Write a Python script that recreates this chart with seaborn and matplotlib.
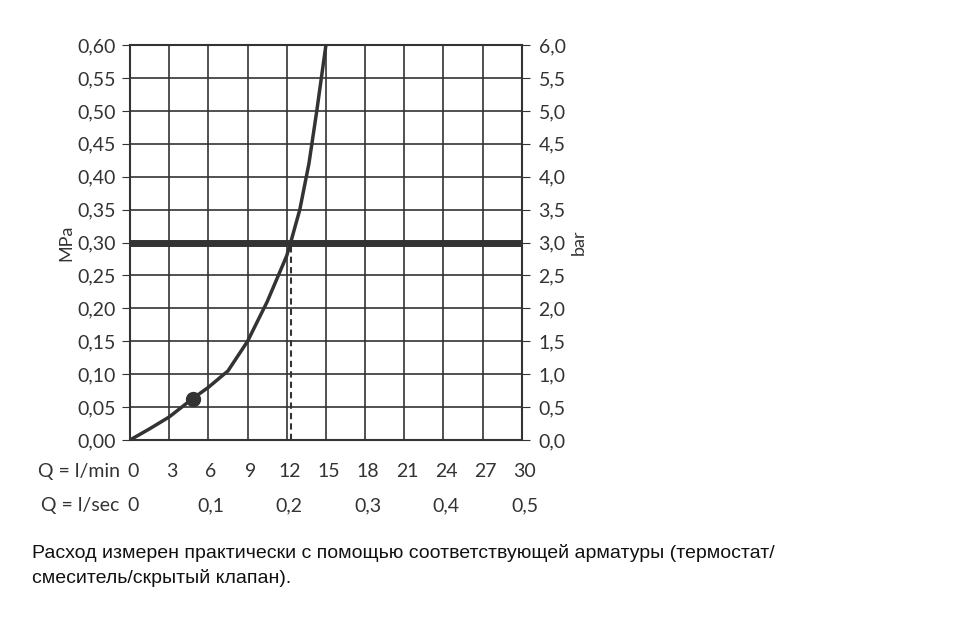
import numpy as np
import pandas as pd
import matplotlib
matplotlib.use("Agg")
import matplotlib.pyplot as plt
import seaborn as sns

# curve: flow (l/min) vs pressure (MPa)
flow = [0, 1.5, 3, 4.8, 6, 7.5, 9, 10.5, 12, 12.3, 13, 13.7, 14.3, 15]
pressure = [0, 0.017, 0.035, 0.063, 0.08, 0.105, 0.15, 0.21, 0.28, 0.30, 0.35, 0.42, 0.50, 0.60]
dot_flow, dot_pressure = 4.8, 0.063
ref_flow, ref_pressure = 12.3, 0.30

lmin_ticks = [0, 3, 6, 9, 12, 15, 18, 21, 24, 27, 30]
lsec_pos = [0, 6, 12, 18, 24, 30]
lsec_labels = ["0", "0,1", "0,2", "0,3", "0,4", "0,5"]
mpa_ticks = np.arange(0, 0.601, 0.05)

sns.set_style("white")
plt.rcParams['font.family'] = ['Lato', 'DejaVu Sans']
col = "#333333"

fig = plt.figure(figsize=(9.7, 6.18), dpi=100)
ax = fig.add_axes([0.134, 0.288, 0.404, 0.639])

ax.set_xlim(0, 30)
ax.set_ylim(0, 0.6)
ax.set_xticks(lmin_ticks)
ax.set_yticks(mpa_ticks)
ax.grid(True, color=col, lw=1.2)
for s in ax.spines.values():
    s.set_color(col)
    s.set_linewidth(1.5)

df = pd.DataFrame({"flow": flow, "pressure": pressure})
sns.lineplot(data=df, x="flow", y="pressure", ax=ax, color=col, lw=2.5, sort=False)
ax.axhline(ref_pressure, color=col, lw=5)
ax.plot([ref_flow, ref_flow], [0, ref_pressure], color=col, lw=1.5, ls=(0, (3, 2)))
ax.plot(dot_flow, dot_pressure, "o", color=col, ms=10)

ax.set_yticklabels([f"{v:.2f}".replace(".", ",") for v in mpa_ticks], fontsize=14, color=col)
ax.set_xticklabels([])
ax.tick_params(axis="y", length=6, color=col, direction="out", pad=4)
ax.tick_params(axis="x", length=0)
ax.set_xlabel("")
ax.set_ylabel("MPa", fontsize=13, color=col, labelpad=2)

ax2 = ax.twinx()
ax2.set_ylim(0, 6)
ax2.set_yticks(np.arange(0, 6.01, 0.5))
ax2.set_yticklabels([f"{v:.1f}".replace(".", ",") for v in np.arange(0, 6.01, 0.5)], fontsize=14, color=col)
ax2.tick_params(axis="y", length=6, color=col, pad=6)
ax2.set_ylabel("bar", fontsize=13, color=col, rotation=90)
ax2.grid(False)
for s in ax2.spines.values():
    s.set_visible(False)

row1, row2 = -0.048, -0.1
ax.text(-0.8, row1, "Q = l/min", ha="right", va="center", fontsize=14, color=col, clip_on=False)
ax.text(-0.8, row2, "Q = l/sec", ha="right", va="center", fontsize=14, color=col, clip_on=False)
for p in lmin_ticks:
    ax.text(p + 0.2, row1, str(p), ha="center", va="center", fontsize=14, color=col, clip_on=False)
for p, lab in zip(lsec_pos, lsec_labels):
    ax.text(p + 0.2, row2, lab, ha="center", va="center", fontsize=14, color=col, clip_on=False)

fig.text(0.033, 0.085, "Расход измерен практически с помощью соответствующей арматуры (термостат/\nсмеситель/скрытый клапан).",
         fontsize=14, family=["Liberation Sans", "DejaVu Sans"], color="#111111",
         va="center", linespacing=1.55)

fig.savefig("out.png", dpi=100)
